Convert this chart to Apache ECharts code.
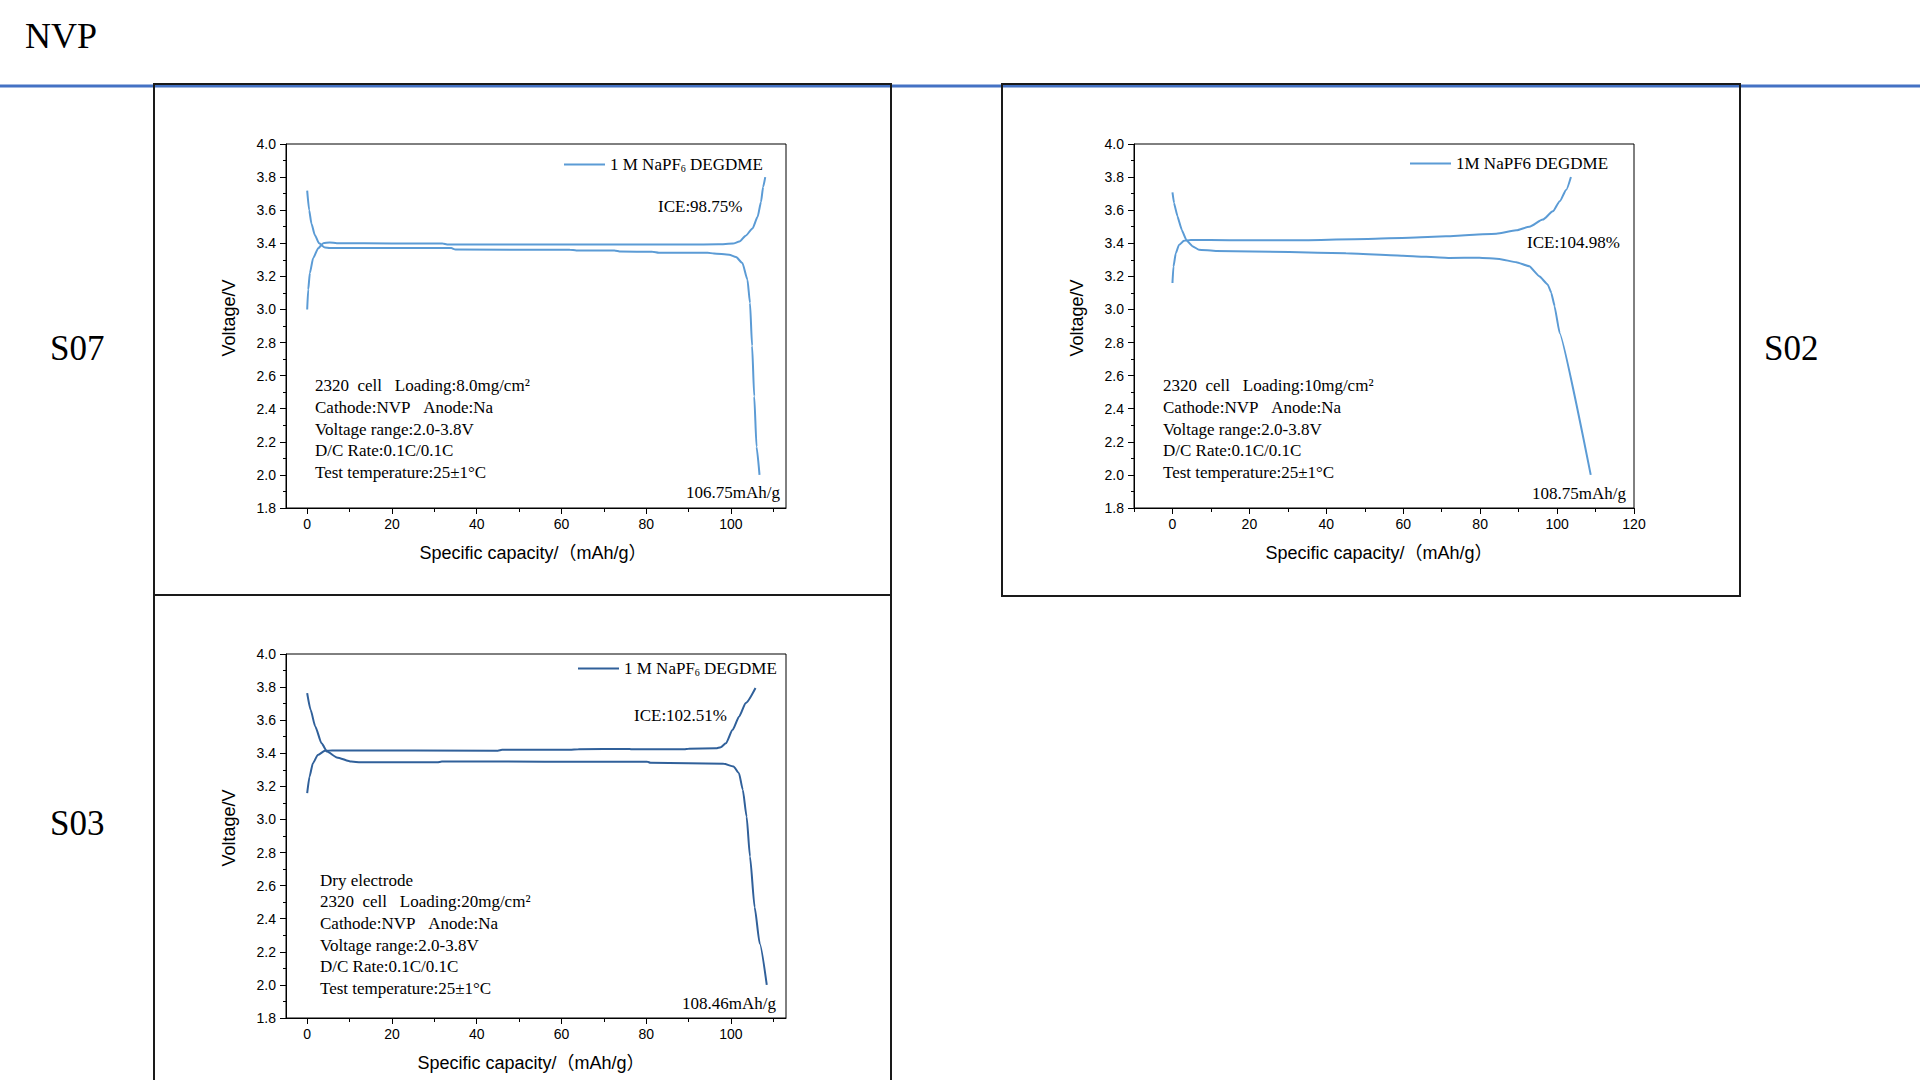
<!DOCTYPE html>
<html>
<head>
<meta charset="utf-8">
<title>NVP</title>
<script src="https://cdn.jsdelivr.net/npm/echarts@6/dist/echarts.min.js"></script>
<style>
html, body { margin: 0; padding: 0; background: #fff; }
#main { width: 1920px; height: 1080px; }
</style>
</head>
<body>
<div id="main"></div>
<script>
// values (capacity mAh/g, voltage V)
const s07Charge = [[0,3.00],[0.24,3.12],[0.63,3.22],[1.4,3.31],[2.6,3.37],[3.8,3.40],[5.3,3.405],[7,3.400],[20,3.399],[32,3.398],[33,3.393],[60,3.393],[90,3.392],[97,3.394],[100.5,3.398],[102,3.41],[103.5,3.446],[105.1,3.49],[106.3,3.56],[107.1,3.65],[107.6,3.74],[108.1,3.80]]
const s07Discharge = [[0,3.718],[0.47,3.60],[1.0,3.52],[1.8,3.45],[2.8,3.40],[4.2,3.374],[5.3,3.372],[34,3.371],[35,3.362],[62,3.361],[63.5,3.357],[72.5,3.357],[74,3.350],[81.5,3.349],[83,3.343],[94.5,3.343],[96,3.338],[99.6,3.331],[101.2,3.317],[102.7,3.281],[103.9,3.18],[104.5,3.04],[105.0,2.78],[105.5,2.475],[106.05,2.17],[106.75,2.0]]

const s02Charge = [[0,3.16],[0.26,3.26],[0.87,3.34],[1.7,3.39],[3.0,3.415],[4.8,3.42],[14.75,3.419],[30.4,3.418],[50.8,3.426],[61.6,3.434],[71.1,3.442],[77.2,3.450],[84.2,3.458],[89.4,3.478],[92.8,3.50],[96.3,3.543],[98.9,3.593],[100.7,3.654],[102.4,3.724],[103.6,3.80]]
const s02Discharge = [[0,3.708],[0.4,3.644],[1.3,3.563],[2.4,3.482],[3.6,3.42],[5.2,3.382],[6.9,3.361],[11.3,3.354],[30.4,3.347],[45.1,3.339],[59.9,3.325],[72,3.311],[79.8,3.313],[85,3.305],[89.4,3.285],[92.8,3.261],[95.4,3.20],[97.6,3.15],[98.5,3.10],[99.35,3.02],[100.65,2.858],[108.75,2.0]]

const s03Charge = [[0,3.159],[0.56,3.26],[1.35,3.34],[2.5,3.39],[4.2,3.415],[5.9,3.417],[45,3.416],[46,3.421],[62,3.421],[64,3.425],[76,3.426],[77,3.424],[89,3.424],[90,3.428],[96.5,3.430],[97.6,3.437],[98.8,3.46],[100.4,3.542],[101.95,3.623],[103.5,3.704],[105.8,3.795]]
const s03Discharge = [[0,3.764],[0.8,3.663],[1.9,3.562],[3.4,3.46],[4.7,3.41],[7.0,3.375],[10.4,3.35],[12.6,3.345],[30.7,3.345],[31.8,3.350],[80.3,3.349],[81,3.343],[89.9,3.340],[98.3,3.337],[100.6,3.32],[101.9,3.28],[102.8,3.18],[103.7,3.018],[104.5,2.776],[105.6,2.47],[106.8,2.25],[108.46,2.0]]

// tick values
const yMin = 1.8, yMax = 4.0, yStep = 0.2
const xMajorA = [0, 20, 40, 60, 80, 100]
const xMinorA = [10, 30, 50, 70, 90, 110]
const xMajorB = [0, 20, 40, 60, 80, 100, 120]
const xMinorB = [-10, 10, 30, 50, 70, 90, 110]

// texts
const pageTitle = 'NVP'
const panelNames = ['S07', 'S02', 'S03']
const s07Notes = ['2320\u00a0\u00a0cell\u00a0\u00a0\u00a0Loading:8.0mg/cm²', 'Cathode:NVP\u00a0\u00a0\u00a0Anode:Na', 'Voltage range:2.0-3.8V', 'D/C Rate:0.1C/0.1C', 'Test temperature:25±1°C']
const s02Notes = ['2320\u00a0\u00a0cell\u00a0\u00a0\u00a0Loading:10mg/cm²', 'Cathode:NVP\u00a0\u00a0\u00a0Anode:Na', 'Voltage range:2.0-3.8V', 'D/C Rate:0.1C/0.1C', 'Test temperature:25±1°C']
const s03Notes = ['Dry electrode', '2320\u00a0\u00a0cell\u00a0\u00a0\u00a0Loading:20mg/cm²', 'Cathode:NVP\u00a0\u00a0\u00a0Anode:Na', 'Voltage range:2.0-3.8V', 'D/C Rate:0.1C/0.1C', 'Test temperature:25±1°C']
const iceTexts = ['ICE:98.75%', 'ICE:104.98%', 'ICE:102.51%']
const capTexts = ['106.75mAh/g', '108.75mAh/g', '108.46mAh/g']
const legendTexts = ['1 M NaPF{s|6} DEGDME', '1M NaPF6 DEGDME', '1 M NaPF{s|6} DEGDME']

const SERIF = '"Liberation Serif", "Times New Roman", serif'
const SANS = '"Liberation Sans", Arial, "Noto Sans CJK SC", sans-serif'
const lightBlue = '#5B9BD5'
const darkBlue = '#30609A'

// panel layout (plot area)
const panels = [
    {left: 286, top: 144, xMin: -5, xMax: 113, major: xMajorA, minor: xMinorA},
    {left: 1134, top: 144, xMin: -10, xMax: 120, major: xMajorB, minor: xMinorB},
    {left: 286, top: 654, xMin: -5, xMax: 113, major: xMajorA, minor: xMinorA}
]
const plotW = 500, plotH = 364

let grids = [], xAxes = [], yAxes = [], legends = []
panels.forEach((p, i) => {
    grids.push({left: p.left, top: p.top, width: plotW, height: plotH, show: true, borderColor: '#000', borderWidth: 1})
    xAxes.push({
        type: 'value', gridIndex: i, min: p.xMin, max: p.xMax, position: 'bottom',
        axisLine: {onZero: false, lineStyle: {color: '#000', width: 1}},
        axisTick: {length: 6, customValues: p.major, lineStyle: {color: '#000'}},
        axisLabel: {customValues: p.major, color: '#000', fontSize: 14, fontFamily: SANS, margin: 9},
        splitLine: {show: false}
    })
    xAxes.push({
        type: 'value', gridIndex: i, min: p.xMin, max: p.xMax, position: 'bottom',
        axisLine: {show: false},
        axisTick: {length: 4, customValues: p.minor, lineStyle: {color: '#000'}},
        axisLabel: {show: false},
        splitLine: {show: false}
    })
    yAxes.push({
        type: 'value', gridIndex: i, min: yMin, max: yMax, interval: yStep,
        axisLine: {show: true, onZero: false, lineStyle: {color: '#000', width: 1}},
        axisTick: {show: true, length: 6, lineStyle: {color: '#000'}},
        minorTick: {show: true, splitNumber: 2, length: 3, lineStyle: {color: '#000'}},
        axisLabel: {color: '#000', fontSize: 14, fontFamily: SANS, margin: 10, formatter: v => v.toFixed(1)},
        splitLine: {show: false}
    })
})

// legend: left edge of the line, top of the row
const legendPos = [[564, 156], [1410, 155], [578, 660]]
panelNames.forEach((n, i) => {
    legends.push({
        data: [n], left: legendPos[i][0], top: legendPos[i][1], padding: 0,
        icon: 'rect', itemWidth: 41, itemHeight: 2, selectedMode: false,
        formatter: () => legendTexts[i],
        textStyle: {fontFamily: SERIF, fontSize: 17, color: '#000',
            rich: {s: {fontFamily: SERIF, fontSize: 10, color: '#000', verticalAlign: 'bottom'}}}
    })
})

function curve(name, idx, data, color, smooth) {
    return {
        type: 'line', name: name, xAxisIndex: idx * 2, yAxisIndex: idx, data: data,
        symbol: 'none', smooth: smooth, smoothMonotone: 'x',
        lineStyle: {color: color, width: 2}, itemStyle: {color: color}
    }
}

let series = [
    curve('S07', 0, s07Charge, lightBlue, 0.2), curve('S07', 0, s07Discharge, lightBlue, 0.2),
    curve('S02', 1, s02Charge, lightBlue, 0.2), curve('S02', 1, s02Discharge, lightBlue, 0.1),
    curve('S03', 2, s03Charge, darkBlue, 0.2), curve('S03', 2, s03Discharge, darkBlue, 0.2)
]

function txt(text, x, y, size, family, align, extra) {
    return Object.assign({
        type: 'text', x: x, y: y, z: 20,
        style: {text: text, fill: '#000', fontSize: size, fontFamily: family, align: align || 'left', verticalAlign: 'middle'}
    }, extra || {})
}

let graphics = [
    // header rule and the frames
    {type: 'line', z: 1, shape: {x1: 0, y1: 86, x2: 1920, y2: 86}, style: {stroke: '#4472C4', lineWidth: 3}},
    {type: 'rect', z: 2, shape: {x: 154, y: 84, width: 737, height: 511}, style: {fill: 'none', stroke: '#1a1a1a', lineWidth: 2}},
    {type: 'rect', z: 2, shape: {x: 1002, y: 84, width: 738, height: 512}, style: {fill: 'none', stroke: '#1a1a1a', lineWidth: 2}},
    {type: 'rect', z: 2, shape: {x: 154, y: 595, width: 737, height: 520}, style: {fill: 'none', stroke: '#1a1a1a', lineWidth: 2}},
    txt(pageTitle, 25, 36, 36, SERIF),
    txt(panelNames[0], 50, 348, 35, SERIF),
    txt(panelNames[1], 1764, 348, 35, SERIF),
    txt(panelNames[2], 50, 823, 35, SERIF)
]

// axis names
const yNamePos = [[229, 318], [1077, 318], [229, 828]]
const xNamePos = [[533, 553], [1379, 553], [531, 1063]]
yNamePos.forEach(p => graphics.push(txt('Voltage/V', p[0], p[1], 18, SANS, 'center', {rotation: Math.PI / 2})))
xNamePos.forEach(p => graphics.push(txt('Specific capacity/（mAh/g）', p[0], p[1], 18, SANS, 'center')))

// notes inside plots
const noteX = [315, 1163, 320]
const noteY0 = [385.7, 385.7, 880]
;[s07Notes, s02Notes, s03Notes].forEach((lines, i) => {
    lines.forEach((l, k) => graphics.push(txt(l, noteX[i], noteY0[i] + k * 21.7, 17, SERIF)))
})
const icePos = [[658, 206], [1527, 242], [634, 715]]
const capPos = [[686, 492], [1532, 493], [682, 1003]]
iceTexts.forEach((t, i) => graphics.push(txt(t, icePos[i][0], icePos[i][1], 17, SERIF)))
capTexts.forEach((t, i) => graphics.push(txt(t, capPos[i][0], capPos[i][1], 17, SERIF)))

let chart = echarts.init(document.getElementById('main'), null, {renderer: 'svg'})
chart.setOption({
    animation: false,
    backgroundColor: '#fff',
    grid: grids,
    xAxis: xAxes,
    yAxis: yAxes,
    legend: legends,
    series: series,
    graphic: graphics
})
</script>
</body>
</html>
